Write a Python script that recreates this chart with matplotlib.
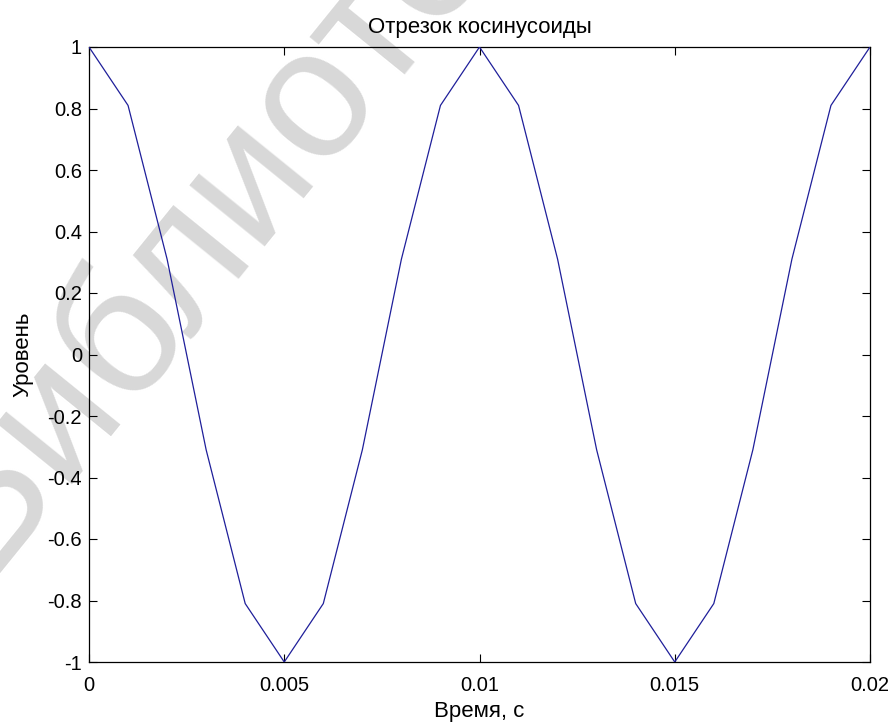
import matplotlib
matplotlib.use("Agg")
import matplotlib.pyplot as plt

plt.rcParams['font.family'] = ['Liberation Sans', 'DejaVu Sans']

# Sampled cosine segment, 1 ms step
t = [0.000, 0.001, 0.002, 0.003, 0.004, 0.005, 0.006, 0.007, 0.008, 0.009, 0.010,
     0.011, 0.012, 0.013, 0.014, 0.015, 0.016, 0.017, 0.018, 0.019, 0.020]
level = [1.0, 0.81, 0.31, -0.31, -0.81, -1.0, -0.81, -0.31, 0.31, 0.81, 1.0,
         0.81, 0.31, -0.31, -0.81, -1.0, -0.81, -0.31, 0.31, 0.81, 1.0]
xticks = [0, 0.005, 0.01, 0.015, 0.02]
xticklabels = ['0', '0.005', '0.01', '0.015', '0.02']
yticks = [-1, -0.8, -0.6, -0.4, -0.2, 0, 0.2, 0.4, 0.6, 0.8, 1]
yticklabels = ['-1', '-0.8', '-0.6', '-0.4', '-0.2', '0', '0.2', '0.4', '0.6', '0.8', '1']

fig = plt.figure(figsize=(8.96, 7.22), dpi=100)
ax = fig.add_axes([89/896, 60/722, (870-89)/896, (662-47)/722])
ax.set_facecolor('none')

# faint diagonal watermark behind everything
fig.text(0.015, 0.17, 'Библиотека', fontsize=132, fontweight='normal',
         color='#d8d8d8', rotation=51, ha='left', va='bottom',
         rotation_mode='anchor', zorder=-5)

ax.plot(t, level, color='#1f1f9a', linewidth=0.9, zorder=3)

ax.set_xlim(0, 0.02)
ax.set_ylim(-1, 1)
ax.set_xticks(xticks)
ax.set_xticklabels(xticklabels)
ax.set_yticks(yticks)
ax.set_yticklabels(yticklabels)
ax.tick_params(direction='in', top=True, right=True, length=6, width=0.8,
               labelsize=14.5)
ax.tick_params(axis='x', pad=10)
ax.tick_params(axis='y', pad=5)
for s in ax.spines.values():
    s.set_linewidth(0.9)

ax.set_title('Отрезок косинусоиды', fontsize=16, pad=10)
ax.set_xlabel('Время, с', fontsize=16)
ax.set_ylabel('Уровень', fontsize=16)
ax.xaxis.set_label_coords(0.5, -0.064)
ax.yaxis.set_label_coords(-0.071, 0.5)

fig.savefig('out.png', dpi=100)
